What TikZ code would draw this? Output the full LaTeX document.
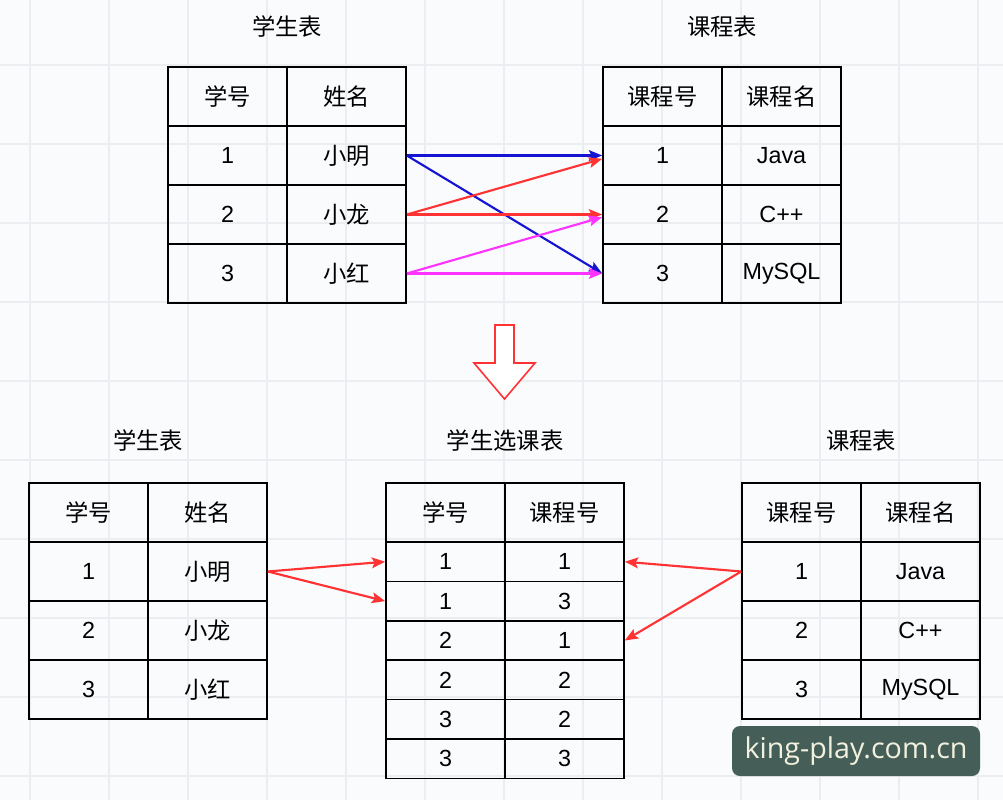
\documentclass[tikz,border=0pt]{standalone}
\usepackage{fontspec}
\setmainfont{Liberation Sans}
\newfontfamily\cjk{Noto Sans CJK SC}
\newfontfamily\markfont{Open Sans}
\usetikzlibrary{arrows.meta}
\definecolor{paper}{HTML}{F9FBFD}
\definecolor{gridcol}{HTML}{ECEDF0}
\definecolor{linkblue}{HTML}{1414D2}
\definecolor{linkred}{HTML}{FF3333}
\definecolor{linkpink}{HTML}{FF33FF}
\definecolor{markbg}{HTML}{455F58}
\definecolor{marktext}{HTML}{F2F0DE}
\begin{document}
\begin{tikzpicture}[x=0.75pt,y=-0.75pt,
  cell/.style={draw,line width=1.2pt,minimum width=89.25pt,minimum height=44.25pt,
    inner sep=0pt,font=\fontsize{17.5}{20}\selectfont},
  slim/.style={cell,minimum height=29.55pt},
  title/.style={font=\cjk\fontsize{17.5}{20}\selectfont},
  link/.style={line width=1.6pt,-{Stealth[length=10pt,width=8pt,inset=2pt]}}
]
\useasboundingbox (0,0) rectangle (1003,800);
\fill[paper] (0,0) rectangle (1003,800);
\foreach \x in {30,109,...,978} \draw[gridcol,line width=1pt] (\x,0) -- (\x,800);
\foreach \y in {65,144,...,776} \draw[gridcol,line width=1pt] (0,\y) -- (1003,\y);

% upper half
\node[title] (t-stu) at (287,27) {学生表};
\node[title] (t-crs) at (722,27) {课程表};
\foreach \r/\a/\b in {1/\cjk 学号/\cjk 姓名,2/1/\cjk 小明,3/2/\cjk 小龙,4/3/\cjk 小红} {
  \node[cell] (us-\r-1) at (227.5,37.5+59*\r) {\a};
  \node[cell] (us-\r-2) at (346.5,37.5+59*\r) {\b};
}
\foreach \r/\a/\b in {1/\cjk 课程号/\cjk 课程名,2/1/Java,3/2/C++,4/3/MySQL} {
  \node[cell] (uc-\r-1) at (662.5,37.5+59*\r) {\a};
  \node[cell] (uc-\r-2) at (781.5,37.5+59*\r) {\b};
}
\draw[link,linkblue] (us-2-2.east) -- (uc-2-1.west);
\draw[link,linkblue] (us-2-2.east) -- (uc-4-1.west);
\draw[link,linkred] (us-3-2.east) -- ([yshift=-2.5pt]uc-2-1.west);
\draw[link,linkred] (us-3-2.east) -- (uc-3-1.west);
\draw[link,linkpink] (us-4-2.east) -- ([yshift=-2pt]uc-3-1.west);
\draw[link,linkpink] (us-4-2.east) -- (uc-4-1.west);

% hollow arrow
\draw[linkred,line width=1.2pt,fill=white]
  (495,325) -- (514,325) -- (514,363) -- (535,363) -- (504.5,399)
  -- (474,363) -- (495,363) -- cycle;

% lower half
\node[title] (l-stu) at (148,441) {学生表};
\node[title] (l-sel) at (505,441) {学生选课表};
\node[title] (l-crs) at (861,441) {课程表};
\foreach \r/\a/\b in {1/\cjk 学号/\cjk 姓名,2/1/\cjk 小明,3/2/\cjk 小龙,4/3/\cjk 小红} {
  \node[cell] (ls-\r-1) at (88.5,453.5+59*\r) {\a};
  \node[cell] (ls-\r-2) at (207.5,453.5+59*\r) {\b};
}
\foreach \r/\a/\b in {1/\cjk 课程号/\cjk 课程名,2/1/Java,3/2/C++,4/3/MySQL} {
  \node[cell] (lc-\r-1) at (801.5,453.5+59*\r) {\a};
  \node[cell] (lc-\r-2) at (920.5,453.5+59*\r) {\b};
}
\node[cell] (m-0-1) at (445.5,512.5) {\cjk 学号};
\node[cell] (m-0-2) at (564.5,512.5) {\cjk 课程号};
\foreach \r/\a/\b in {1/1/1,2/1/3,3/2/1,4/2/2,5/3/2,6/3/3} {
  \node[slim] (m-\r-1) at (445.5,522.3+39.4*\r) {\a};
  \node[slim] (m-\r-2) at (564.5,522.3+39.4*\r) {\b};
}
\draw[link,linkred] (ls-2-2.east) -- (m-1-1.west);
\draw[link,linkred] (ls-2-2.east) -- (m-2-1.west);
\draw[link,linkred] (lc-2-1.west) -- (m-1-2.east);
\draw[link,linkred] (lc-2-1.west) -- (m-3-2.east);

% watermark
\node[fill=markbg,rounded corners=6pt,minimum width=186pt,minimum height=37.5pt,
  text=marktext,font=\markfont\fontsize{21.5}{24}\selectfont] (wm) at (856,751) {king-play.com.cn};
\end{tikzpicture}
\end{document}
